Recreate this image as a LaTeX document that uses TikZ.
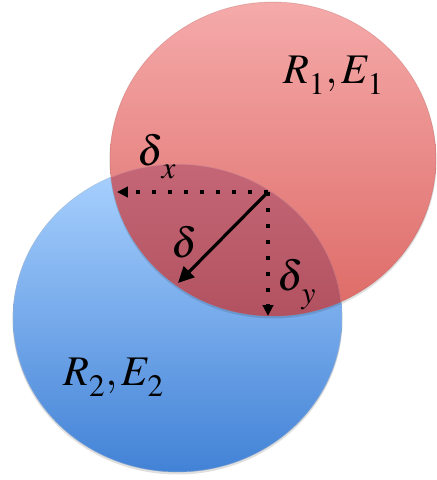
\documentclass[tikz,border=0pt]{standalone}
\usepackage{mathptmx}
\usetikzlibrary{arrows.meta}

% subscript set a little lower, as in the drawing
\newcommand{\lowsub}[1]{_{\raisebox{-0.13em}{$\scriptstyle #1$}}}
\newcommand{\gapsub}[1]{_{\raisebox{-0.16em}{$\kern0.08em\scriptstyle #1$}}}

\begin{document}
\begin{tikzpicture}[
    sym_label/.style={font=\fontsize{24}{28}\selectfont, inner sep=0pt, anchor=base west},
    dot_arrow/.style={-{Triangle[length=0.22cm, width=0.21cm]}, line width=2.3pt, dash pattern=on 2.3pt off 6.8pt},
    solid_arrow/.style={-{Triangle[length=0.32cm, width=0.3cm]}, line width=1.8pt},
    shadow_fill/.style={fill=black, opacity=0.12}
]

  % --- Colour Definitions ---
  \definecolor{credtop}{RGB}{245, 170, 170}   % red circle, top
  \definecolor{credbot}{RGB}{221, 106, 102}   % red circle, bottom
  \definecolor{cbluetop}{RGB}{170, 210, 255}  % blue circle, top
  \definecolor{cbluebot}{RGB}{66, 130, 214}   % blue circle, bottom
  \definecolor{covtop}{RGB}{216, 124, 140}    % overlap, top
  \definecolor{covbot}{RGB}{178, 82, 97}      % overlap, bottom

  \useasboundingbox (0,0) rectangle (8.74, 9.6);

  % --- Blue circle (R2, E2) ---
  \fill[shadow_fill] (3.55, 3.20) ellipse [x radius=3.30, y radius=3.09];
  \shade[top color=cbluetop, bottom color=cbluebot] (3.55, 3.24) ellipse [x radius=3.29, y radius=3.08];
  \draw[cbluebot!70!black, opacity=0.25, line width=0.4pt] (3.55, 3.24) ellipse [x radius=3.29, y radius=3.08];

  % --- Red circle (R1, E1) ---
  \fill[shadow_fill] (5.46, 6.38) ellipse [x radius=3.27, y radius=3.15];
  \shade[top color=credtop, bottom color=credbot] (5.46, 6.42) ellipse [x radius=3.26, y radius=3.14];
  \draw[credbot!70!black, opacity=0.25, line width=0.4pt] (5.46, 6.42) ellipse [x radius=3.26, y radius=3.14];

  % --- Overlap ---
  \begin{scope}
    \clip (3.55, 3.24) ellipse [x radius=3.29, y radius=3.08];
    \shade[top color=covtop, bottom color=covbot] (5.46, 6.42) ellipse [x radius=3.26, y radius=3.14];
    \draw[white, opacity=0.2, line width=0.6pt] (3.55, 3.24) ellipse [x radius=3.29, y radius=3.08];
  \end{scope}

  % --- Penetration vectors ---
  \coordinate (o) at (5.36, 5.76);
  \coordinate (dx_end) at (2.34, 5.76);
  \coordinate (dy_end) at (5.36, 3.28);
  \coordinate (d_end) at (3.56, 3.94);

  \draw[dot_arrow] (o) -- (dx_end);
  \draw[dot_arrow] (o) -- (dy_end);
  \draw[solid_arrow] (o) -- (d_end);

  % --- Labels ---
  \node[sym_label] (lab_one) at (5.66, 7.94) {$R\lowsub{1},E\lowsub{1}$};
  \node[sym_label] (lab_two) at (1.26, 1.90) {$R\lowsub{2},E\lowsub{2}$};
  \node[sym_label] (lab_dx) at (2.74, 6.30) {$\delta\gapsub{x}$};
  \node[sym_label] (lab_d) at (3.42, 4.46) {$\delta$};
  \node[sym_label] (lab_dy) at (5.54, 3.80) {$\delta\gapsub{y}$};

\end{tikzpicture}
\end{document}
